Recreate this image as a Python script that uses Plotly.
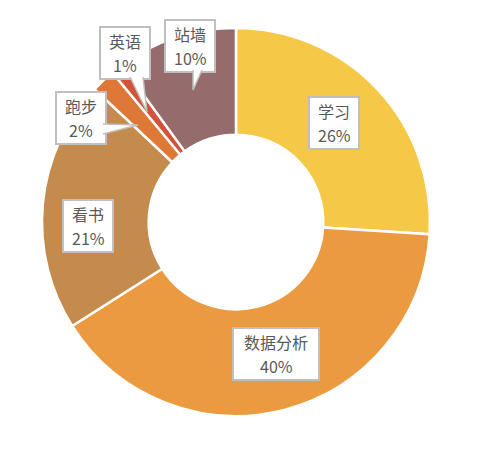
import plotly.graph_objects as go

# 数据
labels = ["学习", "数据分析", "看书", "跑步", "英语", "站墙"]
values = [26, 40, 21, 2, 1, 10]
colors = ["#F6C847", "#EB9A3F", "#C48B4D", "#DF7837", "#D4523A", "#966B6B"]

W, H = 500, 450
OFF = 8  # 页面 body 的默认边距


def px(x, y):
    # 像素坐标 -> paper 坐标
    return (x - OFF) / W, 1 - (y - OFF) / H


cx, cy, r = 236, 222, 194
fig = go.Figure(go.Pie(
    labels=labels,
    values=values,
    sort=False,
    direction="clockwise",
    rotation=0,
    hole=0.45,
    marker=dict(colors=colors, line=dict(color="white", width=2.5)),
    textinfo="none",
    domain=dict(x=[(cx - OFF - r) / W, (cx - OFF + r) / W],
                y=[(H - (cy - OFF) - r) / H, (H - (cy - OFF) + r) / H]),
    showlegend=False,
))

# 标签框中心（像素）
box_pos = {
    "学习": (334, 123),
    "数据分析": (276, 354),
    "看书": (88, 226),
    "跑步": (81, 118),
    "英语": (125, 53),
    "站墙": (190, 46),
}
# 小标签的指示三角: 底边两点 + 尖端
pointers = {
    "跑步": [(103, 124), (138, 125), (103, 134)],
    "英语": [(130, 77), (147, 112), (143, 77)],
    "站墙": [(193, 70), (193, 90), (202, 70)],
}
box_h = 52
line_col = "#BFBFBF"

# 标签框
for lab in labels:
    bx, by = box_pos[lab]
    bw = 18 * len(lab) + 14
    x0, y0 = px(bx - bw / 2, by + box_h / 2)
    x1, y1 = px(bx + bw / 2, by - box_h / 2)
    fig.add_shape(type="rect", x0=x0, y0=y0, x1=x1, y1=y1, xref="paper", yref="paper",
                  fillcolor="white", line=dict(color=line_col, width=2), layer="above")

# 指示三角（开口连到框内）
for lab, pts in pointers.items():
    p = [px(*q) for q in pts]
    path = "M {} {} L {} {} L {} {}".format(p[0][0], p[0][1], p[1][0], p[1][1], p[2][0], p[2][1])
    fig.add_shape(type="path", path=path, xref="paper", yref="paper",
                  fillcolor="white", line=dict(color=line_col, width=1.5), layer="above")

total = sum(values)
font = dict(family="Noto Sans CJK SC", size=16, color="#595959")
for lab, val in zip(labels, values):
    bx, by = box_pos[lab]
    for txt, dy in [(lab, -12), (f"{round(val / total * 100)}%", 12)]:
        x, y = px(bx, by + dy)
        fig.add_annotation(x=x, y=y, xref="paper", yref="paper", showarrow=False,
                           xanchor="center", yanchor="middle", text=txt, font=font)

fig.update_layout(
    width=W, height=H,
    margin=dict(l=0, r=0, t=0, b=0),
    paper_bgcolor="white",
    plot_bgcolor="white",
)

fig.write_html("out.html")
